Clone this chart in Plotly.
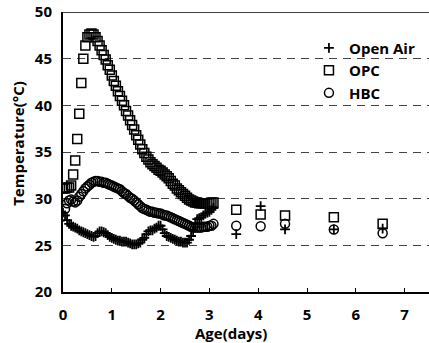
import plotly.graph_objects as go

# Hourly readings for the first ~3 days (hour index -> days = h/24)
hours = list(range(75))

opc_hourly = [31.1, 31.1, 31.2, 31.2, 31.4, 32.6, 34.1, 36.4, 39.1, 42.4,
              45.0, 46.4, 47.3, 47.6, 47.7, 47.6, 47.3, 46.9, 46.4, 45.9,
              45.4, 44.9, 44.3, 43.8, 43.2, 42.6, 42.1, 41.5, 41.0, 40.5,
              40.0, 39.4, 38.9, 38.4, 37.9, 37.4, 36.8, 36.3, 35.8, 35.3,
              34.9, 34.5, 34.2, 33.9, 33.7, 33.5, 33.3, 33.1, 33.0, 32.8,
              32.6, 32.4, 32.2, 31.9, 31.6, 31.4, 31.1, 30.9, 30.7, 30.5,
              30.3, 30.1, 29.9, 29.8, 29.7, 29.6, 29.6, 29.5, 29.5, 29.5,
              29.5, 29.5, 29.5, 29.6, 29.6]

hbc_hourly = [28.1, 28.9, 29.5, 29.8, 29.9, 29.7, 29.6, 29.8, 30.2, 30.5,
              30.8, 31.1, 31.3, 31.5, 31.7, 31.8, 31.9, 31.9, 31.8, 31.8,
              31.7, 31.7, 31.6, 31.5, 31.4, 31.3, 31.2, 31.1, 31.0, 30.8,
              30.6, 30.5, 30.3, 30.1, 30.0, 29.8, 29.6, 29.4, 29.2, 29.0,
              28.9, 28.8, 28.7, 28.6, 28.6, 28.5, 28.5, 28.4, 28.4, 28.3,
              28.2, 28.2, 28.1, 28.0, 27.9, 27.8, 27.7, 27.6, 27.5, 27.4,
              27.3, 27.2, 27.1, 27.0, 26.9, 26.9, 26.9, 26.9, 26.9, 27.0,
              27.0, 27.0, 27.1, 27.1, 27.3]

air_hourly = [28.5, 28.2, 27.7, 27.3, 27.1, 27.0, 26.9, 26.8, 26.6, 26.5,
              26.4, 26.3, 26.2, 26.1, 26.0, 25.9, 26.0, 26.3, 26.5, 26.5,
              26.4, 26.3, 26.1, 25.9, 25.8, 25.7, 25.6, 25.5, 25.5, 25.4,
              25.4, 25.4, 25.3, 25.2, 25.1, 25.1, 25.1, 25.2, 25.3, 25.6,
              25.8, 26.2, 26.5, 26.6, 26.6, 26.8, 26.9, 27.1, 27.1, 26.7,
              26.3, 26.0, 25.9, 25.8, 25.7, 25.6, 25.5, 25.4, 25.4, 25.3,
              25.3, 25.3, 25.6, 26.0, 26.6, 27.3, 27.8, 27.9, 28.0, 28.2,
              28.4, 28.5, 28.6, 28.8, 29.0]

# Later daily readings
late_days = [3.55, 4.05, 4.55, 5.55, 6.55]
opc_late = [28.8, 28.3, 28.2, 28.0, 27.3]
hbc_late = [27.1, 27.05, 27.3, 26.7, 26.3]
air_late = [26.2, 29.2, 26.7, 26.7, 26.8]

x_ticks = [0, 1, 2, 3, 4, 5, 6, 7]
y_ticks = [20, 25, 30, 35, 40, 45, 50]

days = [h / 24 for h in hours] + late_days

FONT = "Open Sans"
BOLD = dict(family=FONT, size=15, weight=700, color="black")

fig = go.Figure()
fig.add_trace(go.Scatter(
    x=days, y=air_hourly + air_late, mode="markers", name="Open Air",
    marker=dict(symbol="cross-thin-open", size=7, color="black",
                line=dict(color="black", width=1.8))))
fig.add_trace(go.Scatter(
    x=days, y=opc_hourly + opc_late, mode="markers", name="OPC",
    marker=dict(symbol="square-open", size=9, color="black",
                line=dict(color="black", width=1.5))))
fig.add_trace(go.Scatter(
    x=days, y=hbc_hourly + hbc_late, mode="markers", name="HBC",
    marker=dict(symbol="circle-open", size=9, color="black",
                line=dict(color="black", width=1.5))))

fig.update_layout(
    width=429, height=343,
    margin=dict(l=63, r=0, t=12, b=51),
    paper_bgcolor="white", plot_bgcolor="white",
    font=BOLD,
    showlegend=True,
    legend=dict(x=0.672, y=0.93, xanchor="left", yanchor="top",
                bgcolor="rgba(0,0,0,0)", tracegroupgap=0,
                font=dict(family=FONT, size=15, weight=700, color="black"),
                itemwidth=30),
    xaxis=dict(range=[0, 7.5], tickvals=x_ticks, ticks="inside", ticklen=4,
               tickwidth=1, tickcolor="black", showgrid=False, zeroline=False,
               showline=True, linecolor="black", linewidth=2,
               ticklabelstandoff=8, tickfont=BOLD),
    yaxis=dict(range=[20, 50], tickvals=y_ticks, ticks="", showgrid=True,
               gridcolor="#444", griddash="8px,6px", gridwidth=1,
               zeroline=False, showline=True, linecolor="black", linewidth=2,
               ticklabelstandoff=6, tickfont=BOLD),
    shapes=[dict(type="line", xref="paper", yref="y", x0=0, x1=1, y0=50, y1=50,
                 line=dict(color="black", width=1.5))],
    annotations=[
        dict(text="Temperature(\u00b0C)", xref="paper", yref="paper",
             x=-0.125, y=0.53, xanchor="center", yanchor="middle",
             textangle=-90, showarrow=False, font=BOLD),
        dict(text="Age(days)", xref="paper", yref="paper",
             x=0.46, y=-0.145, xanchor="center", yanchor="middle",
             showarrow=False, font=BOLD),
    ],
)

fig.write_html("out.html")
